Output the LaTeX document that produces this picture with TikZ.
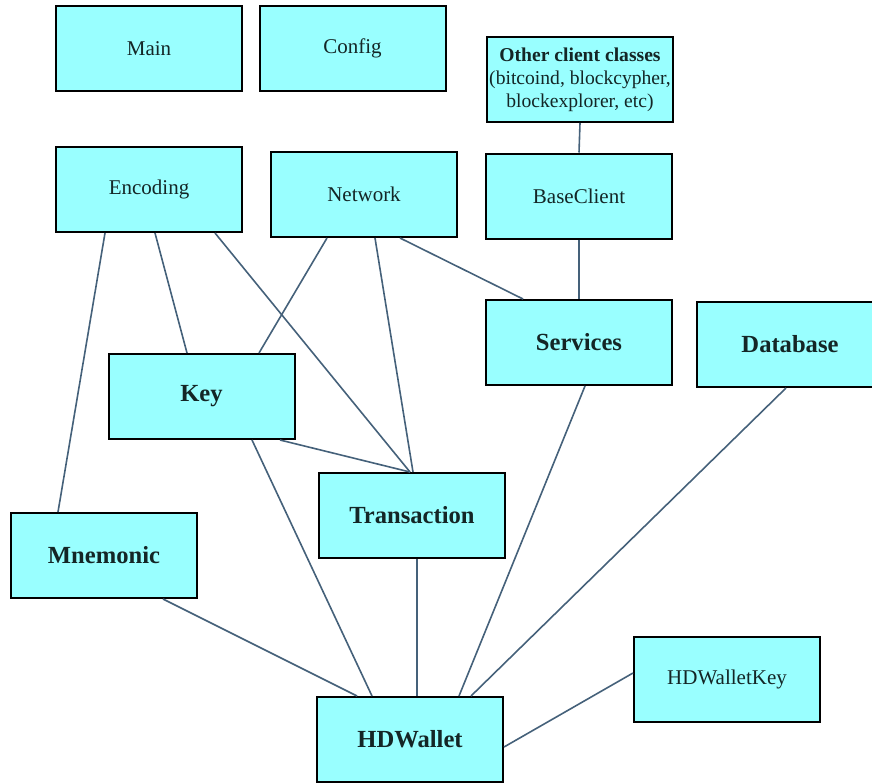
\documentclass[tikz,border=0pt]{standalone}
\usepackage{fontspec}
\setmainfont{Liberation Serif}
\usetikzlibrary{calc}
\definecolor{btcCyan}{HTML}{99FFFF}
\definecolor{btcEdge}{HTML}{45617A}
\definecolor{btcInk}{HTML}{142626}

\begin{document}
\begin{tikzpicture}[x=0.5pt,y=-0.5pt,
    cls/.style={draw=black,line width=1pt,fill=btcCyan,text=btcInk,
                minimum width=93pt,minimum height=42.5pt,inner sep=0pt,
                font=\fontsize{10.5}{12}\selectfont},
    core/.style={cls,font=\fontsize{12.3}{14}\selectfont\bfseries},
    link/.style={draw=btcEdge,line width=0.8pt}]
  \useasboundingbox (0,0) rectangle (872,782);

  % standalone modules
  \node[cls] (main)   at (149,48.5) {Main};
  \node[cls] (config) at (352.5,48) {Config};
  \node[cls,align=center,font=\fontsize{9.8}{11.6}\selectfont] (other) at (580,79.5)
    {\textbf{Other client classes}\\(bitcoind, blockcypher,\\blockexplorer, etc)};

  % helpers
  \node[cls] (encoding)   at (149,189.5) {Encoding};
  \node[cls] (network)    at (364,194.5) {Network};
  \node[cls] (baseclient) at (579,196)   {BaseClient};

  % main classes
  \node[core] (services)    at (579,342.5) {Services};
  \node[core] (database)    at (790,344.5) {Database};
  \node[core] (key)         at (201.5,396.5) {Key};
  \node[core] (transaction) at (412,515.5) {Transaction};
  \node[core] (mnemonic)    at (104,555.5) {Mnemonic};
  \node[core] (hdwallet)    at (410,739.5) {HDWallet};
  \node[cls]  (hdwalletkey) at (727,679.5) {HDWalletKey};

  % dependencies
  \draw[link] (other.south) -- (baseclient.north);
  \draw[link] (baseclient.south) -- (services.north);
  \draw[link] ($(network.south)+(36,0)$) -- ($(services.north)+(-56,0)$);
  \draw[link] ($(encoding.south)+(-44,0)$) -- ($(mnemonic.north)+(-46,0)$);
  \draw[link] ($(encoding.south)+(6,0)$) -- ($(key.north)+(-14.5,0)$);
  \draw[link] ($(encoding.south)+(66,0)$) -- ($(transaction.north)+(-2,0)$);
  \draw[link] ($(network.south)+(-37,0)$) -- ($(key.north)+(57.5,0)$);
  \draw[link] ($(network.south)+(11,0)$) -- ($(transaction.north)+(1,0)$);
  \draw[link] ($(key.south)+(78.5,0)$) -- ($(transaction.north)+(-2,0)$);
  \draw[link] ($(key.south)+(50.5,0)$) -- ($(hdwallet.north)+(-38,0)$);
  \draw[link] ($(transaction.south)+(5,0)$) -- ($(hdwallet.north)+(7,0)$);
  \draw[link] ($(mnemonic.south)+(59,0)$) -- ($(hdwallet.north)+(-53,0)$);
  \draw[link] ($(services.south)+(6,0)$) -- ($(hdwallet.north)+(49,0)$);
  \draw[link] ($(database.south)+(-4,0)$) -- ($(hdwallet.north)+(61,0)$);
  \draw[link] ($(hdwalletkey.west)+(0,-6.5)$) -- ($(hdwallet.east)+(0,7.5)$);
\end{tikzpicture}
\end{document}
